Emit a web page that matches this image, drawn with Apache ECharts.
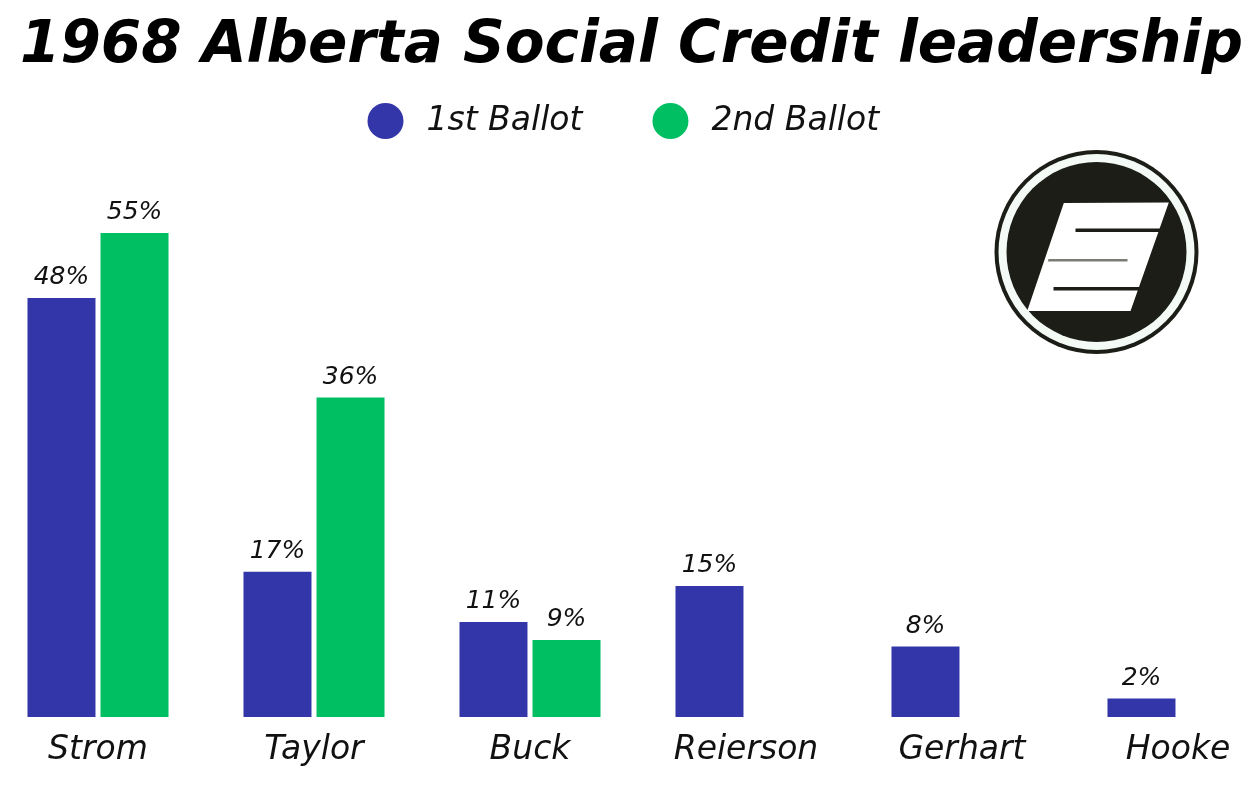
<!DOCTYPE html>
<html>
<head>
<meta charset="utf-8">
<script src="https://cdn.jsdelivr.net/npm/echarts@6/dist/echarts.min.js"></script>
<style>
html,body{margin:0;padding:0;background:#fff;overflow:hidden;width:1260px;height:800px;}
#c{position:absolute;left:-10.5px;top:0;width:1296px;height:800px;}
</style>
</head>
<body>
<div id="c"></div>
<script>
const titleText = '1968 Alberta Social Credit leadership';
const candidates = ['Strom', 'Taylor', 'Buck', 'Reierson', 'Gerhart', 'Hooke'];
const seriesNames = ['1st Ballot', '2nd Ballot'];
const firstBallot = [47.6, 16.5, 10.8, 14.9, 8.0, 2.1];
const secondBallot = [55.0, 36.3, 8.75, null, null, null];

const BLUE = '#3236A8';
const GREEN = '#00BF63';
const FONT = 'DejaVu Sans';
const OFF = 10.5; // chart div is shifted left by this many px

const chart = echarts.init(document.getElementById('c'), null, {renderer: 'canvas'});

const labelCfg = {
  show: true,
  position: 'top',
  distance: 8,
  color: '#111',
  fontFamily: FONT,
  fontStyle: 'italic',
  fontSize: 25,
  formatter: p => Math.round(p.value) + '%'
};

const cx = 1096 + OFF, cy = 252;
const P = (x, y) => [x + OFF, y];
const DARK = '#1b1d16';

chart.setOption({
  animation: false,
  backgroundColor: '#fff',
  legend: {
    data: seriesNames,
    top: 98,
    left: 362 + OFF,
    icon: 'circle',
    itemWidth: 36,
    itemHeight: 36,
    itemGap: 70,
    textStyle: {fontFamily: FONT, fontStyle: 'italic', fontSize: 33, color: '#111', padding: [0, 0, 0, 18]}
  },
  grid: {left: 0, right: 0, top: 189, bottom: 83, containLabel: false},
  xAxis: {
    type: 'category',
    data: candidates,
    axisLine: {show: false},
    axisTick: {show: false},
    axisLabel: {margin: 17, fontFamily: FONT, fontStyle: 'italic', fontSize: 33, color: '#111'}
  },
  yAxis: {
    type: 'value',
    min: 0,
    max: 60,
    show: false,
    splitLine: {show: false}
  },
  series: [
    {name: seriesNames[0], type: 'bar', data: firstBallot, barWidth: 68, barGap: '7.4%', itemStyle: {color: BLUE}, label: labelCfg},
    {name: seriesNames[1], type: 'bar', data: secondBallot, barWidth: 68, barGap: '7.4%', itemStyle: {color: GREEN}, label: labelCfg}
  ],
  graphic: [
    {type: 'text', x: 631 + OFF, y: 47, style: {text: titleText, align: 'center', verticalAlign: 'middle', fontFamily: FONT, fontWeight: 'bold', fontStyle: 'italic', fontSize: 58, fill: '#000'}, z: 20},
    {type: 'circle', shape: {cx: cx, cy: cy, r: 102}, style: {fill: DARK}, z: 10},
    {type: 'circle', shape: {cx: cx, cy: cy, r: 98}, style: {fill: '#f4fbf6'}, z: 10},
    {type: 'circle', shape: {cx: cx, cy: cy, r: 90}, style: {fill: DARK}, z: 10},
    {type: 'polygon', shape: {points: [P(1063.3, 203), P(1168.3, 202.5), P(1130, 311), P(1026.7, 311)]}, style: {fill: '#fff'}, z: 11},
    {type: 'polygon', shape: {points: [P(1075, 228.5), P(1160.5, 228.5), P(1159.3, 232), P(1075, 232)]}, style: {fill: DARK}, z: 12},
    {type: 'polygon', shape: {points: [P(1048, 259), P(1127, 259), P(1127, 261.5), P(1047.3, 261.5)]}, style: {fill: '#7a7a76'}, z: 12},
    {type: 'polygon', shape: {points: [P(1053, 287), P(1141, 287), P(1139.8, 290.5), P(1053, 290.5)]}, style: {fill: DARK}, z: 12}
  ]
});
</script>
</body>
</html>
